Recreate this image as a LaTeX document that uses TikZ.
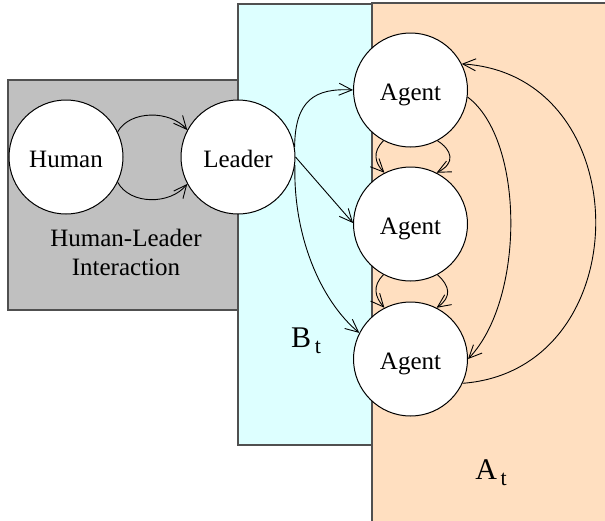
\documentclass[tikz,border=0pt]{standalone}
\usepackage{fontspec}
\setmainfont{Liberation Serif}
\usetikzlibrary{arrows.meta}
\definecolor{grayfill}{HTML}{C0C0C0}
\definecolor{bluefill}{HTML}{DDFFFF}
\definecolor{orangefill}{HTML}{FFDFC0}
\definecolor{boxline}{HTML}{505050}
\begin{document}
\begin{tikzpicture}[x=0.5pt,y=-0.5pt,
  region/.style={draw=boxline,line width=0.6pt},
  circ/.style={circle,draw,fill=white,line width=0.5pt,minimum size=57pt,inner sep=0pt,
    text height=10.2pt,text depth=0pt,
    font=\fontsize{12.5}{15}\selectfont},
  lbl/.style={font=\fontsize{15}{17}\selectfont,inner sep=0pt},
  conn/.style={line width=0.45pt,-{Straight Barb[length=6.5pt,width=6pt]}},
  ]
\useasboundingbox (0,0) rectangle (605,520);
\clip (0,0) rectangle (605,520);
% regions
\draw[region,fill=grayfill] (8,80) rectangle (238,310);
\draw[region,fill=orangefill] (372,3) rectangle (640,560);
\draw[region,fill=bluefill] (238,4) rectangle (372,445);
% nodes
\node[circ] (h) at (66,157) {Human};
\node[circ] (l) at (238,157) {Leader};
\node[circ] (a1) at (410.5,90) {Agent};
\node[circ] (a2) at (410.5,224) {Agent};
\node[circ] (a3) at (410.5,359) {Agent};
% labels
\node[font=\fontsize{12.5}{14.5}\selectfont,align=center,inner sep=0pt] (hli) at (126,252) {Human-Leader\\Interaction};
\node[lbl] (bt) at (306,341) {B\raisebox{-0.45ex}{\fontsize{11}{11}\selectfont\,t}};
\node[lbl] (at) at (491,473) {A\raisebox{-0.45ex}{\fontsize{11}{11}\selectfont\,t}};
% human -> leader
\draw[conn] (h.26) .. controls (130,110) and (170,110) .. (l.152);
\draw[conn] (h.-26) .. controls (130,205) and (170,205) .. (l.-152);
% leader -> agents
\draw[conn] (l.10) .. controls (295,100) and (315,88) .. (a1.180);
\draw[conn] (l.0) -- (a2.179);
\draw[conn] (l.-8) .. controls (293,235) and (320,300) .. (a3.153);
% agent chain
\draw[conn] (a1.-118) .. controls (372,152) and (375,163) .. (a2.117);
\draw[conn] (a1.-62) .. controls (452,150) and (456,163) .. (a2.63);
\draw[conn] (a2.-118) .. controls (372,286) and (375,297) .. (a3.117);
\draw[conn] (a2.-62) .. controls (450,286) and (452,297) .. (a3.63);
% right side
\draw[conn] (a1.-7) .. controls (525,140) and (525,300) .. (a3.0);
\draw[conn] (a3.-25) .. controls (640,370) and (640,75) .. (a1.27);
\end{tikzpicture}
\end{document}
